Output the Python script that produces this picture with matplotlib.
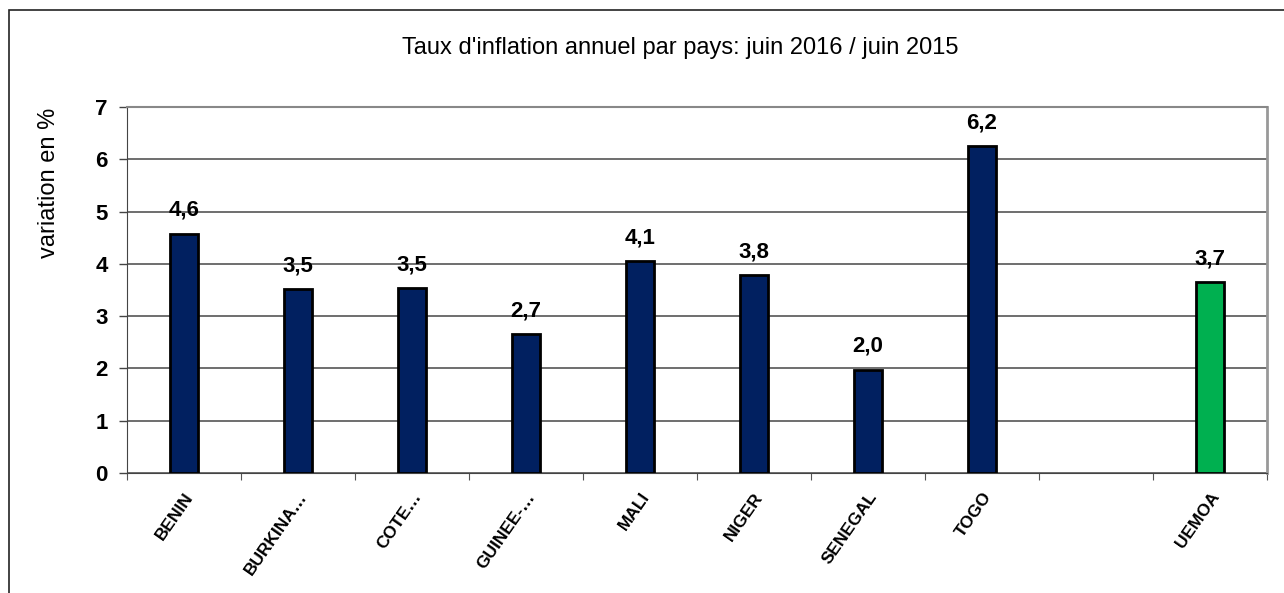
import numpy as np
import matplotlib.pyplot as plt
from matplotlib.patches import Rectangle

plt.rcParams['font.family'] = ['Liberation Sans', 'DejaVu Sans']

# data
categories = ['BENIN', 'BURKINA…', 'COTE…', 'GUINEE-…', 'MALI', 'NIGER',
              'SENEGAL', 'TOGO', '', 'UEMOA']
values = [4.57, 3.51, 3.53, 2.65, 4.05, 3.78, 1.97, 6.25, np.nan, 3.65]
value_labels = ['4,6', '3,5', '3,5', '2,7', '4,1', '3,8', '2,0', '6,2', '', '3,7']
bar_colors = ['#012060'] * 9 + ['#00b050']

fig = plt.figure(figsize=(12.84, 5.93), dpi=100)
ax = fig.add_axes([127 / 1284, 1 - 473 / 593, (1267 - 127) / 1284, (473 - 107) / 593])

# frame around the whole chart
fig.patches.append(Rectangle((9 / 1284, -0.05), 1.2, 1 - 10 / 593 + 0.05,
                             transform=fig.transFigure, fill=False,
                             edgecolor='#222222', linewidth=1.2))

x = np.arange(len(categories))
ax.bar(x, values, width=0.25, color=bar_colors, edgecolor='black',
       linewidth=2, zorder=3)

for xi, v, lab in zip(x, values, value_labels):
    if lab:
        ax.text(xi, v + 0.25, lab, ha='center', va='bottom',
                fontsize=16, fontweight='bold')

ax.set_xlim(-0.5, len(categories) - 0.5)
ax.set_ylim(0, 7)
ax.set_yticks(range(0, 8))
ax.set_yticklabels([str(i) for i in range(0, 8)], fontsize=16, fontweight='bold')
ax.yaxis.grid(True, color='#555555', linewidth=1.2, zorder=0)
ax.tick_params(axis='y', direction='out', length=6, width=1, color='#444444', pad=8)

# category ticks between slots, labels at centers
ax.set_xticks(np.arange(-0.5, len(categories), 1.0))
ax.set_xticklabels([])
ax.set_xticks(x, minor=True)
ax.set_xticklabels(categories, minor=True, rotation=55, ha='right',
                   rotation_mode='anchor', fontsize=12.5, fontweight='bold')
ax.tick_params(axis='x', which='major', direction='out', length=5, color='#555555')
ax.tick_params(axis='x', which='minor', length=0, pad=12)

ax.spines['left'].set_color('#444444')
ax.spines['bottom'].set_color('#444444')
ax.spines['top'].set_color('#888888')
ax.spines['right'].set_color('#999999')
ax.spines['right'].set_linewidth(2)
ax.spines['top'].set_linewidth(1.5)

fig.text(49 / 1284, 1 - 183 / 593, 'variation en %', rotation=90,
         ha='center', va='center', fontsize=17)
fig.text(680 / 1284, 1 - 48 / 593, "Taux d'inflation annuel par pays: juin 2016 / juin 2015",
         ha='center', va='center', fontsize=17)

fig.savefig('out.png', dpi=100)
